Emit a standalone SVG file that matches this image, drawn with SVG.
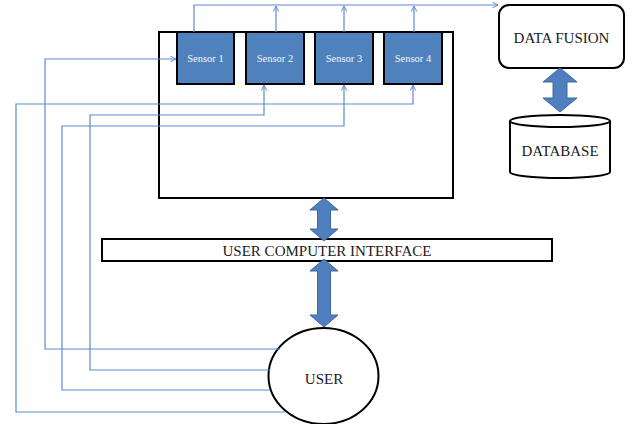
<svg xmlns="http://www.w3.org/2000/svg" width="638" height="424" viewBox="0 0 638 424">
<defs>
<style>
.box{fill:#fff;stroke:#000;stroke-width:2}
.sensor{fill:#4F81BD;stroke:#000;stroke-width:2}
.stxt{font-family:'Liberation Serif','DejaVu Serif',serif;font-size:10.5px;fill:#f4f6fa;text-anchor:middle}
.txt{font-family:'Liberation Serif','DejaVu Serif',serif;font-size:15px;fill:#1a1a1a;text-anchor:middle}
.wire{fill:none;stroke:#5B8BD0;stroke-width:1.2}
.big{fill:#4F7FBF;stroke:#3F6A9E;stroke-width:1}
</style>
<marker id="ah" viewBox="0 0 10 10" refX="9" refY="5" markerWidth="7" markerHeight="7" orient="auto" markerUnits="userSpaceOnUse">
<path d="M1,1 L9,5 L1,9" fill="none" stroke="#5B8BD0" stroke-width="1.4"/>
</marker>
</defs>
<rect width="638" height="424" fill="#fff"/>
<g id="system">
<rect class="box" x="159" y="32" width="294" height="166"/>
</g>
<g id="sensor1"><rect class="sensor" x="177" y="32" width="57" height="52"/><text class="stxt" x="205.5" y="62">Sensor 1</text></g>
<g id="sensor2"><rect class="sensor" x="246" y="32" width="58" height="52"/><text class="stxt" x="275" y="62">Sensor 2</text></g>
<g id="sensor3"><rect class="sensor" x="315" y="32" width="58" height="52"/><text class="stxt" x="344" y="62">Sensor 3</text></g>
<g id="sensor4"><rect class="sensor" x="384" y="32" width="58" height="52"/><text class="stxt" x="413" y="62">Sensor 4</text></g>
<g id="datafusion"><rect class="box" x="499" y="5" width="125" height="63" rx="10"/><text class="txt" x="561.5" y="43">DATA FUSION</text></g>
<g id="database">
<path class="box" d="M510,121 L510,172 A50,6 0 0 0 610,172 L610,121"/>
<ellipse class="box" cx="560" cy="121" rx="50" ry="6"/>
<text class="txt" x="560" y="156">DATABASE</text>
</g>
<g id="uci"><rect class="box" x="102" y="239" width="450" height="22"/><text class="txt" x="327" y="255.5">USER COMPUTER INTERFACE</text></g>
<g id="user"><ellipse class="box" cx="323.5" cy="376" rx="55" ry="48"/><text class="txt" x="324" y="384">USER</text></g>
<g id="connectors">
<path class="wire" d="M194,32 L194,5 L498,5" marker-end="url(#ah)"/>
<path class="wire" d="M276,32 L276,6" marker-end="url(#ah)"/>
<path class="wire" d="M344,32 L344,6" marker-end="url(#ah)"/>
<path class="wire" d="M414,32 L414,6" marker-end="url(#ah)"/>
<path class="wire" d="M280,349 L45,349 L45,59 L176,59" marker-end="url(#ah)"/>
<path class="wire" d="M270,370 L90,370 L90,115 L264,115 L264,85" marker-end="url(#ah)"/>
<path class="wire" d="M270,390 L62,390 L62,126 L344,126 L344,85" marker-end="url(#ah)"/>
<path class="wire" d="M285,412 L16,412 L16,104 L413,104 L413,85" marker-end="url(#ah)"/>
<path class="big" d="M560,68 L577,82 L567,82 L567,98 L577,98 L560,112 L543,98 L553,98 L553,82 L543,82 Z"/>
<path class="big" d="M324,198 L338,210 L330.5,210 L330.5,229 L338,229 L324,241 L310,229 L317.5,229 L317.5,210 L310,210 Z"/>
<path class="big" d="M324,259 L338,271 L330.5,271 L330.5,315 L338,315 L324,327 L310,315 L317.5,315 L317.5,271 L310,271 Z"/>
</g>
</svg>
